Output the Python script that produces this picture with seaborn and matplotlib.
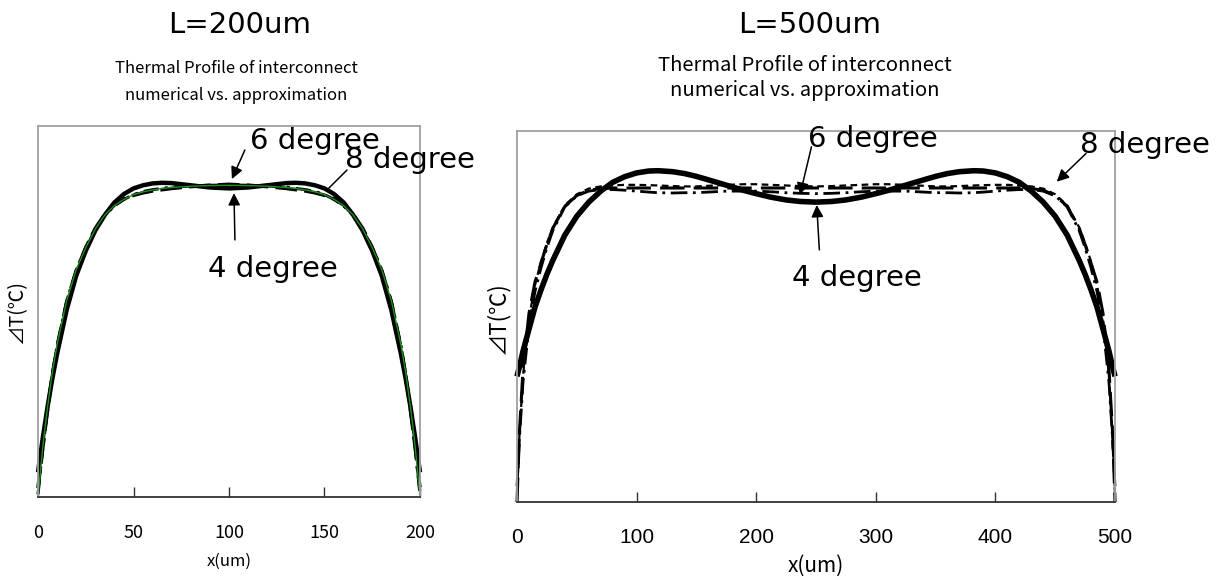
import matplotlib
matplotlib.use("Agg")
import matplotlib.pyplot as plt
import seaborn as sns

# ---------------- data ----------------
titles = ["L=200um", "L=500um"]
subtitle = "Thermal Profile of interconnect\nnumerical vs. approximation"
xlabel = "x(um)"
ylabel = "⊿T(℃)"

ticks_L = [0, 50, 100, 150, 200]
ticks_R = [0, 100, 200, 300, 400, 500]

x_L = [0, 2.5, 5, 7.5, 10, 15, 20, 25, 30, 35, 40, 45, 50, 55, 60, 65, 70, 80, 90, 100,
       110, 120, 130, 135, 140, 145, 150, 155, 160, 165, 170, 175, 180, 185, 190, 192.5, 195, 197.5, 200]
num_L = [0.0, 0.16, 0.29, 0.40, 0.49, 0.63, 0.73, 0.80, 0.86, 0.905, 0.935, 0.955, 0.97, 0.979, 0.985, 0.99, 0.993, 0.997, 0.999, 1.0,
         0.999, 0.997, 0.993, 0.99, 0.985, 0.979, 0.97, 0.955, 0.935, 0.905, 0.86, 0.80, 0.73, 0.63, 0.49, 0.40, 0.29, 0.16, 0.0]
deg4_L = [0.08, 0.19, 0.29, 0.38, 0.46, 0.60, 0.71, 0.79, 0.855, 0.905, 0.945, 0.972, 0.99, 1.0, 1.006, 1.008, 1.007, 1.0, 0.993, 0.99,
          0.993, 1.0, 1.007, 1.008, 1.006, 1.0, 0.99, 0.972, 0.945, 0.905, 0.855, 0.79, 0.71, 0.60, 0.46, 0.38, 0.29, 0.19, 0.08]
deg6_L = [0.03, 0.16, 0.28, 0.39, 0.48, 0.625, 0.725, 0.80, 0.862, 0.907, 0.937, 0.956, 0.968, 0.976, 0.982, 0.986, 0.99, 0.996, 1.0, 1.003,
          1.0, 0.996, 0.99, 0.986, 0.982, 0.976, 0.968, 0.956, 0.937, 0.907, 0.862, 0.80, 0.725, 0.625, 0.48, 0.39, 0.28, 0.16, 0.03]
deg8_L = [0.01, 0.155, 0.285, 0.395, 0.487, 0.628, 0.728, 0.80, 0.86, 0.904, 0.934, 0.955, 0.97, 0.98, 0.986, 0.99, 0.994, 0.998, 1.0, 1.001,
          1.0, 0.998, 0.994, 0.99, 0.986, 0.98, 0.97, 0.955, 0.934, 0.904, 0.86, 0.80, 0.728, 0.628, 0.487, 0.395, 0.285, 0.155, 0.01]

x_R = [0, 2, 5, 10, 15, 20, 25, 30, 40, 50, 60, 70, 80, 90, 100, 110, 118, 130, 140, 150, 160, 175, 190, 200, 212, 225, 237, 250,
       263, 275, 288, 300, 310, 325, 340, 350, 360, 370, 382, 390, 400, 410, 420, 430, 440, 450, 460, 470, 475, 480, 485, 490, 495, 498, 500]
deg4_R = [0.40, 0.43, 0.48, 0.55, 0.62, 0.675, 0.725, 0.77, 0.85, 0.91, 0.955, 0.99, 1.018, 1.036, 1.048, 1.054, 1.055, 1.052, 1.046, 1.037,
          1.026, 1.009, 0.992, 0.982, 0.971, 0.962, 0.957, 0.955,
          0.957, 0.962, 0.971, 0.982, 0.992, 1.009, 1.026, 1.037, 1.046, 1.052, 1.055, 1.054, 1.048, 1.036, 1.018, 0.99, 0.955, 0.91,
          0.85, 0.77, 0.725, 0.675, 0.62, 0.55, 0.48, 0.43, 0.40]
num_R = [0.0, 0.22, 0.42, 0.60, 0.70, 0.76, 0.82, 0.872, 0.942, 0.976, 0.993, 0.998, 1.0, 1.0, 1.0, 1.0, 1.0, 1.0, 1.0, 1.0,
         1.0, 1.0, 1.0, 1.0, 1.0, 1.0, 1.0, 1.0,
         1.0, 1.0, 1.0, 1.0, 1.0, 1.0, 1.0, 1.0, 1.0, 1.0, 1.0, 1.0, 1.0, 1.0, 1.0, 0.998, 0.993, 0.976,
         0.942, 0.872, 0.82, 0.76, 0.70, 0.60, 0.42, 0.22, 0.0]
deg6_R = [0.05, 0.20, 0.38, 0.56, 0.67, 0.745, 0.81, 0.865, 0.94, 0.975, 0.99, 0.995, 0.995, 0.993, 0.99, 0.987, 0.985, 0.984, 0.985, 0.985,
          0.987, 0.99, 0.99, 0.99, 0.988, 0.985, 0.983, 0.982,
          0.983, 0.985, 0.988, 0.99, 0.99, 0.99, 0.987, 0.985, 0.985, 0.984, 0.985, 0.987, 0.99, 0.993, 0.995, 0.995, 0.99, 0.975,
          0.94, 0.865, 0.81, 0.745, 0.67, 0.56, 0.38, 0.20, 0.05]
deg8_R = [0.02, 0.21, 0.40, 0.585, 0.69, 0.765, 0.825, 0.875, 0.945, 0.98, 0.998, 1.005, 1.008, 1.01, 1.01, 1.009, 1.008, 1.006, 1.005, 1.005,
          1.007, 1.01, 1.012, 1.012, 1.01, 1.008, 1.006, 1.005,
          1.006, 1.008, 1.01, 1.012, 1.012, 1.01, 1.007, 1.005, 1.005, 1.006, 1.008, 1.009, 1.01, 1.01, 1.008, 1.005, 0.998, 0.98,
          0.945, 0.875, 0.825, 0.765, 0.69, 0.585, 0.40, 0.21, 0.02]

# ---------------- style ----------------
sns.set_style("white")
plt.rcParams["font.family"] = ["DejaVu Sans"]
plt.rcParams["text.color"] = "black"
plt.rcParams["axes.labelcolor"] = "black"
plt.rcParams["xtick.color"] = "black"
plt.rcParams["xtick.labelcolor"] = "black"
NARROW = ["Noto Sans CJK JP", "DejaVu Sans"]
CJK = ["Noto Sans CJK JP", "DejaVu Sans"]
W, H = 1231, 580

fig = plt.figure(figsize=(W / 100, H / 100), dpi=100)
axL = fig.add_axes([38 / W, 1 - 497.3 / H, 382 / W, 371.6 / H])
axR = fig.add_axes([517 / W, 1 - 502 / H, 598 / W, 371 / H])


def draw(ax, x, y, color, lw, dashes=None):
    sns.lineplot(x=x, y=y, ax=ax, color=color, linewidth=lw, sort=False,
                 estimator=None, solid_capstyle="butt", solid_joinstyle="round")
    ln = ax.lines[-1]
    if dashes is not None:
        ln.set_dashes(dashes)
    ln.set_clip_on(False)


# left panel
draw(axL, x_L, deg8_L, "black", 2.2, (5, 2, 1, 2))
draw(axL, x_L, deg6_L, "black", 2.6, (6, 2))
draw(axL, x_L, deg4_L, "black", 3.2)
draw(axL, x_L, num_L, "#1f8f1f", 1.0)

# right panel
draw(axR, x_R, num_R, "black", 2.2, (8, 3))
draw(axR, x_R, deg6_R, "black", 2.0, (6, 2, 1, 2))
draw(axR, x_R, deg8_R, "black", 1.6, (3, 2))
draw(axR, x_R, deg4_R, "black", 4.0)

for ax, ticks, xmax, ytop in [(axL, ticks_L, 200, 1.191), (axR, ticks_R, 500, 1.1815)]:
    ax.set_xlim(0, xmax)
    ax.set_ylim(0, ytop)
    ax.set_yticks([])
    ax.set_xticks(ticks)
    for s in ["left", "top", "right"]:
        ax.spines[s].set_color("#a0a0a0")
        ax.spines[s].set_linewidth(1.3)
    ax.spines["bottom"].set_color("#333333")
    ax.spines["bottom"].set_linewidth(1.3)
    ax.tick_params(axis="x", bottom=True, direction="in", length=7, width=1,
                   color="#333333", labelcolor="black", pad=19)

axL.set_xticklabels([str(t) for t in ticks_L], fontfamily=NARROW, fontsize=13)
axR.set_xticklabels([str(t) for t in ticks_R], fontfamily=["Liberation Sans"], fontsize=15)

# axis labels
axL.set_xlabel(xlabel, fontfamily=NARROW, fontsize=12)
axL.xaxis.set_label_coords(0.5, (497.3 - 561) / 371.6)
axL.xaxis.label.set_va("center")
axR.set_xlabel(xlabel, fontfamily=NARROW, fontsize=15)
axR.xaxis.set_label_coords(0.5, (502 - 566) / 371)
axR.xaxis.label.set_va("center")

axL.set_ylabel(ylabel, fontfamily=CJK, fontsize=14)
axL.yaxis.set_label_coords((17 - 38) / 382, (497.3 - 312) / 371.6)
axL.yaxis.label.set_va("center")
axR.set_ylabel(ylabel, fontfamily=CJK, fontsize=16)
axR.yaxis.set_label_coords((497 - 517) / 598, (502 - 318) / 371)
axR.yaxis.label.set_va("center")

# titles
fig.text(240 / W, 1 - 25 / H, titles[0], ha="center", va="center", fontsize=21)
fig.text(236 / W, 1 - 82 / H, subtitle, ha="center", va="center", fontsize=12,
         fontfamily=NARROW, linespacing=1.75)
fig.text(810 / W, 1 - 25 / H, titles[1], ha="center", va="center", fontsize=21)
fig.text(805 / W, 1 - 78 / H, subtitle, ha="center", va="center", fontsize=14.5,
         fontfamily=NARROW, linespacing=1.3)

# annotations
ann_font = 21
arrow_kw = dict(arrowstyle="-|>", color="black", lw=1.1, mutation_scale=18,
                shrinkA=0, shrinkB=0)
line_kw = dict(arrowstyle="-", color="black", lw=1.1, shrinkA=0, shrinkB=0)

axL.text(110.9, 1.116, "6 degree", fontsize=ann_font, va="baseline", ha="left", clip_on=False)
axL.annotate("", xy=(101.5, 1.02), xytext=(108.3, 1.113), arrowprops=arrow_kw, annotation_clip=False)
axL.text(160.7, 1.055, "8 degree", fontsize=ann_font, va="baseline", ha="left", clip_on=False)
axL.annotate("", xy=(151.3, 0.985), xytext=(161.8, 1.049), arrowprops=line_kw, annotation_clip=False)
axL.text(88.9, 0.706, "4 degree", fontsize=ann_font, va="baseline", ha="left", clip_on=False)
axL.annotate("", xy=(102.6, 0.975), xytext=(103.1, 0.825), arrowprops=arrow_kw, annotation_clip=False)

axR.text(243.3, 1.131, "6 degree", fontsize=ann_font, va="baseline", ha="left", clip_on=False)
axR.annotate("", xy=(236.6, 0.978), xytext=(246.2, 1.131), arrowprops=arrow_kw, annotation_clip=False)
axR.text(229.7, 0.688, "4 degree", fontsize=ann_font, va="baseline", ha="left", clip_on=False)
axR.annotate("", xy=(250.6, 0.946), xytext=(252.8, 0.803), arrowprops=arrow_kw, annotation_clip=False)
axR.text(470.7, 1.111, "8 degree", fontsize=ann_font, va="baseline", ha="left", clip_on=False)
axR.annotate("", xy=(451.3, 1.02), xytext=(475.8, 1.11), arrowprops=arrow_kw, annotation_clip=False)

fig.savefig("out.png", dpi=100)
